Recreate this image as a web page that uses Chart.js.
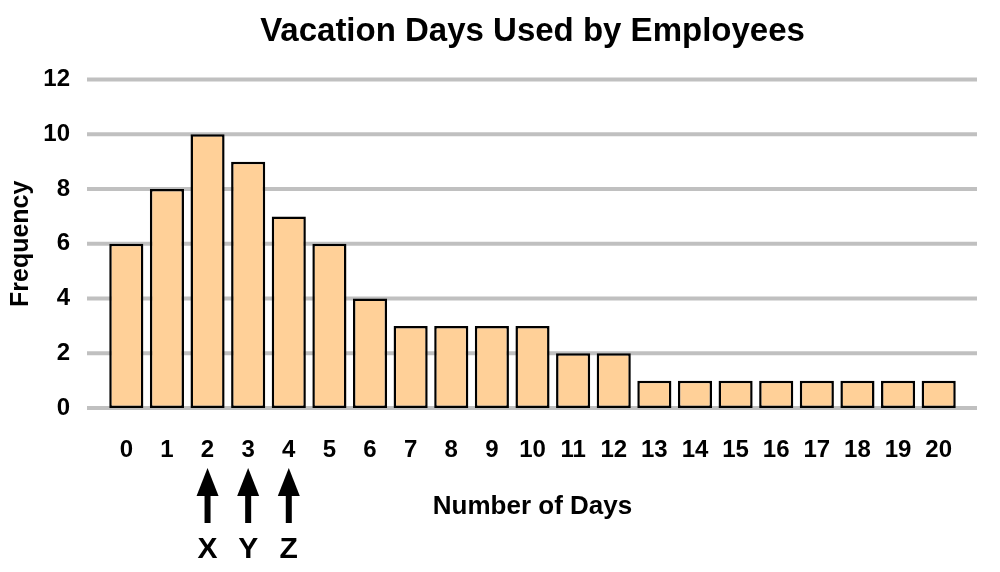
<!DOCTYPE html>
<html>
<head>
<meta charset="utf-8">
<script src="https://cdn.jsdelivr.net/npm/chart.js@4.4.0/dist/chart.umd.min.js"></script>
<style>
    html, body { margin: 0; padding: 0; background: #fff; }
</style>
</head>
<body>
<canvas id="days-chart" width="1000" height="572"></canvas>
<script>
const dayLabels = ['0', '1', '2', '3', '4', '5', '6', '7', '8', '9', '10',
    '11', '12', '13', '14', '15', '16', '17', '18', '19', '20'];
const frequencies = [6, 8, 10, 9, 7, 6, 4, 3, 3, 3, 3, 2, 2, 1, 1, 1, 1, 1, 1, 1, 1];
const yTicks = [0, 2, 4, 6, 8, 10, 12];
const markedDays = ['2', '3', '4'];
const markLetters = ['X', 'Y', 'Z'];

const FONT = 'Arial, "Liberation Sans", sans-serif';

// wide grey gridlines that run past the bars on both sides
const gridPlugin = {
    id: 'wideGrid',
    beforeDatasetsDraw(chart) {
        const {ctx, chartArea, scales: {y}} = chart;
        ctx.save();
        ctx.strokeStyle = '#c0c0c0';
        ctx.lineWidth = 4;
        yTicks.forEach(v => {
            const py = y.getPixelForValue(v);
            ctx.beginPath();
            ctx.moveTo(chartArea.left - 19, py);
            ctx.lineTo(chartArea.right + 18, py);
            ctx.stroke();
        });
        ctx.restore();
    }
};

// arrows with letters under the marked days
const arrowPlugin = {
    id: 'dayArrows',
    afterDraw(chart) {
        const {ctx, chartArea, scales: {x}} = chart;
        const base = chartArea.bottom;
        ctx.save();
        ctx.fillStyle = '#000';
        ctx.font = 'bold 30px ' + FONT;
        ctx.textAlign = 'center';
        ctx.textBaseline = 'middle';
        markedDays.forEach((d, i) => {
            const px = x.getPixelForValue(dayLabels.indexOf(d));
            ctx.beginPath();
            ctx.moveTo(px, base + 60);
            ctx.lineTo(px + 11, base + 88);
            ctx.lineTo(px - 11, base + 88);
            ctx.closePath();
            ctx.fill();
            ctx.fillRect(px - 3, base + 86, 6, 29);
            ctx.fillText(markLetters[i], px, base + 142);
        });
        ctx.restore();
    }
};

const daysCanvas = document.getElementById('days-chart');
const daysData = {
    labels: dayLabels,
    datasets: [{
        label: 'Frequency',
        data: frequencies,
        backgroundColor: 'rgb(255, 208, 152)',
        borderColor: '#000',
        borderWidth: 2.5,
        borderSkipped: false,
        barPercentage: 0.84,
        categoryPercentage: 1,
    }]
};
const daysConfig = {
    type: 'bar',
    data: daysData,
    plugins: [gridPlugin, arrowPlugin],
    options: {
        responsive: false,
        animation: false,
        devicePixelRatio: 1,
        layout: {
            padding: {left: 0, right: 41, top: 0, bottom: 0}
        },
        plugins: {
            legend: {display: false},
            tooltip: {enabled: false},
            title: {
                display: true,
                text: 'Vacation Days Used by Employees',
                color: '#000',
                fullSize: false,
                font: {family: FONT, size: 33, weight: 'bold'},
                padding: {top: 12, bottom: 28},
            }
        },
        scales: {
            x: {
                grid: {display: false, drawTicks: false},
                border: {display: false},
                ticks: {
                    color: '#000',
                    font: {family: FONT, size: 24, weight: 'bold'},
                    padding: 28,
                    autoSkip: false,
                    maxRotation: 0,
                },
                title: {
                    display: true,
                    text: 'Number of Days',
                    color: '#000',
                    font: {family: FONT, size: 26, weight: 'bold'},
                    padding: {top: 10, bottom: 50},
                },
                afterFit(scale) {
                    scale.height = 164;
                }
            },
            y: {
                min: 0,
                max: 12,
                grid: {display: false, drawTicks: false},
                border: {display: false},
                ticks: {
                    stepSize: 2,
                    color: '#000',
                    font: {family: FONT, size: 24, weight: 'bold'},
                    padding: 36,
                },
                title: {
                    display: true,
                    text: 'Frequency',
                    color: '#000',
                    font: {family: FONT, size: 25, weight: 'bold'},
                    padding: {top: 6, bottom: 0},
                },
                afterFit(scale) {
                    scale.width = 106;
                }
            }
        }
    }
};

const daysChart = new Chart(daysCanvas, daysConfig);
</script>
</body>
</html>
